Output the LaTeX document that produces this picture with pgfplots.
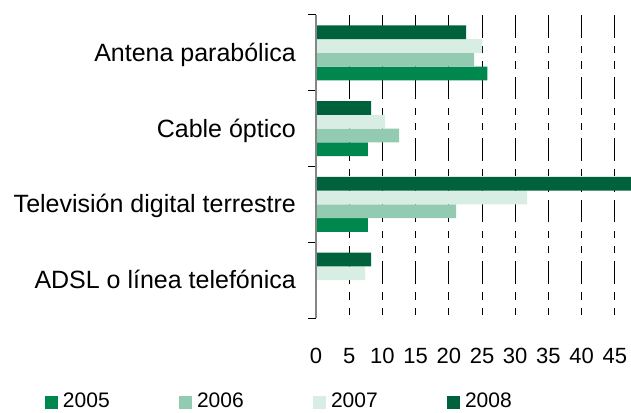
\documentclass[border=0pt]{standalone}
\usepackage{pgfplots}
\pgfplotsset{compat=1.18}
\usepackage{fontspec}
\setmainfont{Liberation Sans}
\definecolor{c2005}{HTML}{00874E}
\definecolor{c2006}{HTML}{92CAB2}
\definecolor{c2007}{HTML}{D8EDE3}
\definecolor{c2008}{HTML}{00623C}
\begin{document}
\begin{tikzpicture}
\useasboundingbox (0,0) rectangle (631pt,412pt);
\clip (0,0) rectangle (631pt,412pt);
\begin{axis}[
  at={(316pt,94pt)}, anchor=south west,
  scale only axis, width=315pt, height=303pt,
  xmin=0, xmax=47.44, ymin=-0.5, ymax=3.5,
  clip=false,
  xbar, bar width=13.8pt,
  axis y line*=left, axis x line*=bottom,
  x axis line style={draw=none},
  y axis line style={draw=gray!95, line width=2.2pt},
  xtick={0,5,...,45},
  ytick={0,1,2,3},
  yticklabels={ADSL o línea telefónica, Televisión digital terrestre, Cable óptico, Antena parabólica},
  minor ytick={-0.5,0.5,1.5,2.5,3.5},
  tick align=outside, major tick length=0pt, minor tick length=8pt,
  minor tick style={black, line width=1pt},
  major tick style={draw=none},
  /pgf/number format/assume math mode=true,
  yticklabel style={font=\fontsize{25}{25}\selectfont, anchor=base east, inner sep=0pt, xshift=-20pt, yshift=-8.5pt},
  xticklabel style={font=\fontsize{22}{22}\selectfont, anchor=base, inner sep=0pt, yshift=-45.3pt},
  xmajorgrids,
  major x grid style={black, line width=1pt, dash pattern=on 7.3pt off 8pt on 7.3pt off 8.3pt on 22.6pt off 8.1pt, dash phase=58.6pt},
  legend columns=4,
  legend style={draw=none, fill=none, inner sep=0pt, outer sep=0pt,
    at={(axis description cs:-0.8603,-0.2739)}, anchor=west,
    nodes={inner sep=0pt, font=\fontsize{21}{21}\selectfont},
    /tikz/every odd column/.append style={column sep=5pt},
    /tikz/every even column/.append style={column sep=69.3pt}},
  legend image code/.code={\path[fill,#1] (0pt,-8.5pt) rectangle (13pt,4.5pt);},
]
\addplot[fill=c2005, draw=none, bar shift=-20.7pt] coordinates {(0,0) (7.8,1) (7.8,2) (25.8,3)};
\addplot[fill=c2006, draw=none, bar shift=-6.9pt] coordinates {(0,0) (21.1,1) (12.5,2) (23.8,3)};
\addplot[fill=c2007, draw=none, bar shift=6.9pt] coordinates {(7.4,0) (31.8,1) (10.4,2) (25.0,3)};
\addplot[fill=c2008, draw=none, bar shift=20.7pt] coordinates {(8.3,0) (47.5,1) (8.3,2) (22.6,3)};
\legend{2005,2006,2007,2008}
\draw[gray!95, line width=2.2pt] (axis cs:0,-0.5) -- (axis cs:0,3.5);
\end{axis}
\end{tikzpicture}
\end{document}
